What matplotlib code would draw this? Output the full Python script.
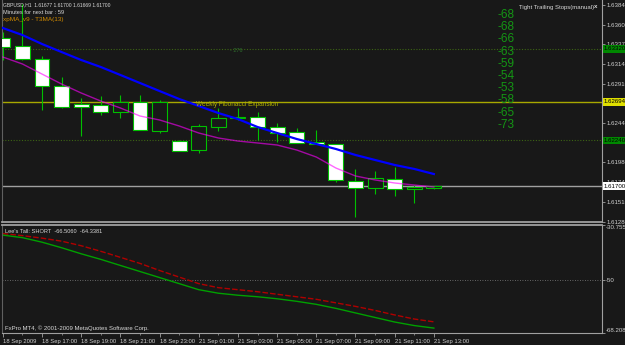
import numpy as np
import matplotlib.pyplot as plt
from matplotlib.patches import Rectangle
import matplotlib.transforms as mtransforms

# GBPUSD H1, 18 Sep 2009 15:00 .. 21 Sep 2009 13:00
days = ["18 Sep"] * 9 + ["21 Sep"] * 14
hours = list(range(15, 24)) + list(range(0, 14))

opens = [1.63450, 1.63355, 1.63202, 1.62883, 1.62670, 1.62658, 1.62575, 1.62693,
         1.62351, 1.62232, 1.62126, 1.62398, 1.62510, 1.62516, 1.62398, 1.62339,
         1.62221, 1.62197, 1.61760, 1.61677, 1.61783, 1.61665, 1.61677]
highs = [1.63521, 1.63852, 1.63237, 1.62989, 1.62741, 1.62764, 1.62776, 1.62776,
         1.62717, 1.62240, 1.62434, 1.62623, 1.62623, 1.62575, 1.62445, 1.62386,
         1.62363, 1.62197, 1.61902, 1.61878, 1.61925, 1.61712, 1.61700]
lows = [1.63190, 1.63190, 1.62599, 1.62622, 1.62292, 1.62540, 1.62504, 1.62363,
        1.62327, 1.62110, 1.62091, 1.62351, 1.62480, 1.62244, 1.62221, 1.62209,
        1.62197, 1.61748, 1.61334, 1.61606, 1.61582, 1.61500, 1.61669]
closes = [1.63344, 1.63202, 1.62883, 1.62634, 1.62634, 1.62575, 1.62693, 1.62363,
          1.62693, 1.62114, 1.62410, 1.62504, 1.62516, 1.62398, 1.62327, 1.62209,
          1.62197, 1.61772, 1.61677, 1.61795, 1.61665, 1.61689, 1.61700]

# xpMA (blue) and T3MA(13) (magenta)
xpma = [1.63568, 1.63485, 1.63379, 1.63284, 1.63190, 1.63107, 1.63013, 1.62918,
        1.62823, 1.62729, 1.62646, 1.62563, 1.62492, 1.62398, 1.62327, 1.62256,
        1.62197, 1.62138, 1.62067, 1.62008, 1.61949, 1.61902, 1.61842]
t3ma = [1.63225, 1.63143, 1.63024, 1.62906, 1.62800, 1.62705, 1.62623, 1.62528,
        1.62481, 1.62410, 1.62327, 1.62268, 1.62232, 1.62209, 1.62185, 1.62126,
        1.62043, 1.61913, 1.61819, 1.61772, 1.61736, 1.61712, 1.61689]

# Lee's Tall indicator
lee_red = [-33.73, -34.44, -35.31, -36.36, -37.94, -39.87, -41.97, -44.07, -46.53,
           -48.81, -51.09, -52.49, -53.19, -53.89, -54.77, -55.64, -56.52, -57.75,
           -58.98, -60.38, -61.95, -63.36, -64.3381]
lee_green = [-34.26, -35.14, -36.71, -38.64, -40.74, -42.67, -44.78, -46.88, -48.98,
             -51.08, -53.19, -54.41, -55.11, -55.64, -56.34, -57.22, -58.27, -59.67,
             -61.25, -62.83, -64.40, -65.63, -66.5060]
lee_min, lee_max = -68.2084, -30.7553

price_ticks = [1.61280, 1.61510, 1.61745, 1.61980, 1.62210, 1.62440, 1.62675,
               1.62910, 1.63140, 1.63375, 1.63605, 1.63840]
hidden_ticks = [1.62210, 1.62675]  # covered by the level labels
fib_level = 1.62694
green_levels = [1.63320, 1.62240]
bid = 1.61700
stops = [-68, -68, -66, -63, -59, -54, -53, -58, -65, -73]

bg = '#181818'
lime = '#00c000'
grey = '#a0a0a0'
small = ['Liberation Sans Narrow', 'Liberation Sans', 'DejaVu Sans']

W, H = 625, 345
fig = plt.figure(figsize=(W / 100, H / 100), dpi=100, facecolor=bg)
ax = fig.add_axes([2 / W, (H - 222) / H, 600 / W, 222 / H], facecolor=bg)
ax2 = fig.add_axes([2 / W, (H - 333) / H, 600 / W, 108 / H], facecolor=bg)

n = len(opens)
x = np.arange(n)
xlim = (-0.04, 30.58)

# ---- main chart ----
for p in green_levels:
    ax.axhline(p, color='#3c6414', lw=0.8, ls=(0, (1, 1.5)), zorder=1)
ax.axhline(fib_level, color='#a8a800', lw=1, zorder=1)
ax.axhline(bid, color=grey, lw=1, zorder=1)

w = 0.76
for i in range(n):
    o, h, l, c = opens[i], highs[i], lows[i], closes[i]
    ax.vlines(i, l, h, color=lime, lw=0.8, zorder=2)
    fc = 'white' if c < o else bg
    ax.add_patch(Rectangle((i - w / 2, min(o, c)), w, max(abs(c - o), 1e-6),
                           facecolor=fc, edgecolor=lime, lw=0.8, zorder=3))

ax.plot(x, t3ma, color='#ff00ff', alpha=0.6, lw=1, zorder=4)
ax.plot(x, xpma, color='#0000ff', lw=1.6, zorder=5)

ax.set_xlim(*xlim)
ax.set_ylim(1.61275, 1.63899)
ax.set_xticks([])
ax.yaxis.tick_right()
ax.set_yticks(price_ticks)
ax.set_yticklabels(["" if p in hidden_ticks else f"{p:.5f}" for p in price_ticks])
ax.tick_params(axis='y', colors=grey, labelcolor='#d0d0d0', length=2, width=0.6,
               pad=1, labelsize=4.4)
for t in ax.get_yticklabels():
    t.set_family(small)
ax.spines['top'].set_visible(False)
for s in ['left', 'right', 'bottom']:
    ax.spines[s].set_color(grey)
ax.spines['left'].set_color('#606060')
ax.spines['bottom'].set_linewidth(1.3)

# price labels on the axis
tr = mtransforms.blended_transform_factory(fig.transFigure, ax.transData)
for p, fcol in [(green_levels[0], '#008800'), (fib_level, '#e0e000'),
                (green_levels[1], '#008800'), (bid, 'white')]:
    ax.text(604 / W, p, f"{p:.5f}", transform=tr, ha='left', va='center',
            fontsize=4.4, family=small, color='black', clip_on=False, zorder=6,
            bbox=dict(facecolor=fcol, edgecolor='none', pad=0.8))

ax.text(9.85, fib_level - 0.00035, "Weekly Fibonacci Expansion", color='#b0b000',
        fontsize=4.7, family=small, ha='left', va='center', zorder=6)
ax.text(11.6, green_levels[0] - 0.0002, "- 276", color='#2e6e2e',
        fontsize=4, family=small, ha='left', va='center', zorder=6)

# ---- indicator ----
ax2.axhline(-50, color='#808080', lw=0.6, ls=(0, (1, 2)))
ax2.plot(x, lee_red, color='#b00000', lw=1, ls=(0, (4, 1.5)))
ax2.plot(x, lee_green, color='#00a000', lw=1)
ax2.set_xlim(*xlim)
ax2.set_ylim(lee_min, lee_max)
ax2.yaxis.tick_right()
ax2.set_yticks([lee_max, -50, lee_min])
ax2.set_yticklabels([f"{lee_max:.4f}", "-50", f"{lee_min:.4f}"])
ax2.tick_params(axis='y', colors=grey, labelcolor='#d0d0d0', length=2, width=0.6,
                pad=1, labelsize=4.4)
labs = ax2.get_yticklabels()
labs[0].set_va('top')
labs[2].set_va('bottom')
for t in labs:
    t.set_family(small)

tick_idx = list(range(0, n, 2))
tick_lab = []
for i in tick_idx:
    if i == 0:
        tick_lab.append(f"{days[i]} 2009")
    else:
        tick_lab.append(f"{days[i]} {hours[i]:02d}:00")
ax2.set_xticks(tick_idx)
ax2.set_xticklabels(tick_lab, ha='left')
ax2.set_xticks(x, minor=True)
ax2.tick_params(axis='x', colors=grey, labelcolor='#d0d0d0', length=3, width=0.6,
                pad=1, labelsize=4.2)
ax2.tick_params(axis='x', which='minor', length=1.2, width=0.5, colors=grey)
for t in ax2.get_xticklabels():
    t.set_family(small)
for s in ['left', 'right', 'bottom', 'top']:
    ax2.spines[s].set_color(grey)
ax2.spines['left'].set_color('#606060')
ax2.spines['top'].set_linewidth(1.3)

ax2.text(0.005, 0.96, f"Lee's Tall: SHORT  {lee_green[-1]:.4f}  {lee_red[-1]:.4f}",
         transform=ax2.transAxes, color='#d8d8d8', fontsize=4.1, family=small,
         ha='left', va='top')
ax2.text(0.005, 0.02, "FxPro MT4, \u00a9 2001-2009 MetaQuotes Software Corp.",
         transform=ax2.transAxes, color='#d8d8d8', fontsize=4.3, family=small,
         ha='left', va='bottom')

# ---- header texts ----
def fy(py):
    return 1 - py / H

fig.text(3 / W, fy(5), f"GBPUSD,H1  {opens[-1]:.5f} {highs[-1]:.5f} {lows[-1]:.5f} {closes[-1]:.5f}",
         color='#d8d8d8', fontsize=3.6, family=small, va='center')
fig.text(3 / W, fy(12.5), "Minutes for next bar : 59", color='#d8d8d8', fontsize=4.1,
         family=small, va='center')
fig.text(3 / W, fy(20), "xpMA_v9 - T3MA(13)", color='#d08a00', fontsize=4.6,
         family=small, va='center')
fig.text(519 / W, fy(7), "Tight Trailing Stops(manual)", color='#d8d8d8', fontsize=4.3,
         family=small, va='center')
fig.text(596 / W, fy(7), "x", color='#d8d8d8', fontsize=4.4, weight='bold',
         family=small, va='center', ha='center')

for k, v in enumerate(stops):
    fig.text(515 / W, fy(15 + 12.2 * k), str(v), color='#149614', fontsize=8.5,
             family=['Liberation Sans', 'DejaVu Sans'], ha='right', va='center')

fig.savefig('out.png', dpi=100, facecolor=bg)
